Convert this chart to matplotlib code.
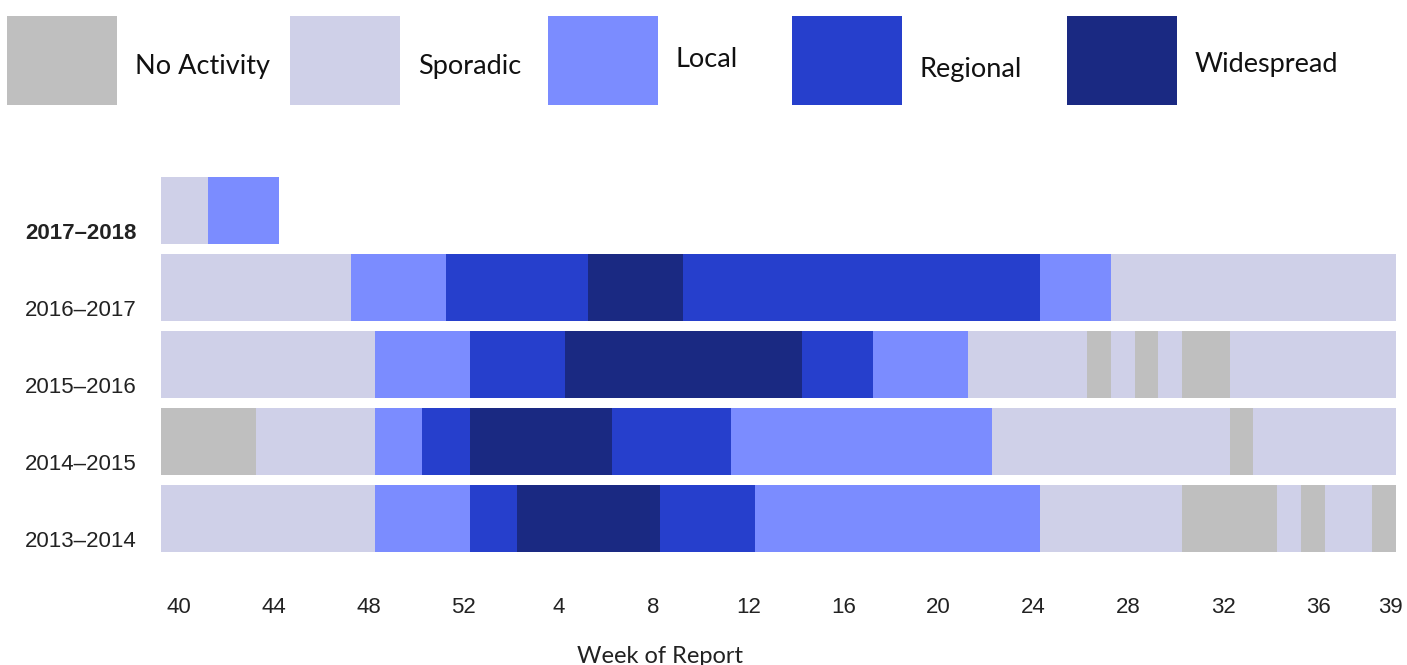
import matplotlib
matplotlib.use('Agg')
import matplotlib.pyplot as plt
from matplotlib.patches import Rectangle

# activity levels and colours
levels = ['No Activity', 'Sporadic', 'Local', 'Regional', 'Widespread']
codes = ['N', 'S', 'L', 'R', 'W']
colors = ['#bfbfbf', '#cfd0e8', '#7b8cff', '#263fcc', '#1a2982']

seasons = ['2013–2014', '2014–2015', '2015–2016', '2016–2017', '2017–2018']

# runs of (activity level, number of weeks), each season starts at week 40
runs_2013_2014 = [('S', 9), ('L', 4), ('R', 2), ('W', 6), ('R', 4), ('L', 12),
                  ('S', 6), ('N', 4), ('S', 1), ('N', 1), ('S', 2), ('N', 1)]
runs_2014_2015 = [('N', 4), ('S', 5), ('L', 2), ('R', 2), ('W', 6), ('R', 5),
                  ('L', 11), ('S', 10), ('N', 1), ('S', 6)]
runs_2015_2016 = [('S', 9), ('L', 4), ('R', 4), ('W', 10), ('R', 3), ('L', 4),
                  ('S', 5), ('N', 1), ('S', 1), ('N', 1), ('S', 1), ('N', 2), ('S', 7)]
runs_2016_2017 = [('S', 8), ('L', 4), ('R', 6), ('W', 4), ('R', 15), ('L', 3), ('S', 12)]
runs_2017_2018 = [('S', 2), ('L', 3)]
season_runs = [runs_2013_2014, runs_2014_2015, runs_2015_2016, runs_2016_2017, runs_2017_2018]

weeks = list(range(40, 53)) + list(range(1, 40))
tick_weeks = [40, 44, 48, 52, 4, 8, 12, 16, 20, 24, 28, 32, 36, 39]

W, H = 1407, 665
fig = plt.figure(figsize=(W / 100, H / 100), dpi=100)
ax = fig.add_axes([160.7 / W, (H - 557) / H, (1396 - 160.7) / W, 385 / H])

for row, runs in enumerate(season_runs):
    left = 0
    for code, n in runs:
        ax.barh(row, n, left=left, height=0.876, color=colors[codes.index(code)], linewidth=0)
        left += n

ax.set_xlim(0, len(weeks))
ax.set_ylim(-0.5, len(seasons) - 0.5)

ax.set_xticks([weeks.index(w) + 0.75 for w in tick_weeks])
ax.set_xticklabels([str(w) for w in tick_weeks], fontsize=16, family=['Liberation Sans', 'DejaVu Sans'],
                   color='#222222')
ax.set_yticks([i - 0.26 for i in range(len(seasons))])
ax.set_yticklabels(seasons, fontsize=16, family=['Liberation Sans', 'DejaVu Sans'], color='#222222')
ax.get_yticklabels()[-1].set_fontweight('bold')
ax.tick_params(axis='x', length=0, pad=29)
ax.tick_params(axis='y', length=0, pad=17)
for s in ax.spines.values():
    s.set_visible(False)

fig.text(660 / W, (H - 663) / H, 'Week of Report', fontsize=17, family=['Lato', 'DejaVu Sans'],
         ha='center', va='baseline', color='#222222')

# legend across the top
box_left = [7, 290, 548, 792, 1067]
text_base = [74, 74, 67, 77, 72]
for i, name in enumerate(levels):
    fig.add_artist(Rectangle((box_left[i] / W, (H - 105) / H), 110 / W, 88.5 / H,
                             transform=fig.transFigure, facecolor=colors[i], edgecolor='none'))
    fig.text((box_left[i] + 128) / W, (H - text_base[i]) / H, name, fontsize=19.5,
             family=['Lato', 'DejaVu Sans'], ha='left', va='baseline', color='#111111')

fig.savefig('out.png', dpi=100, facecolor='white')
